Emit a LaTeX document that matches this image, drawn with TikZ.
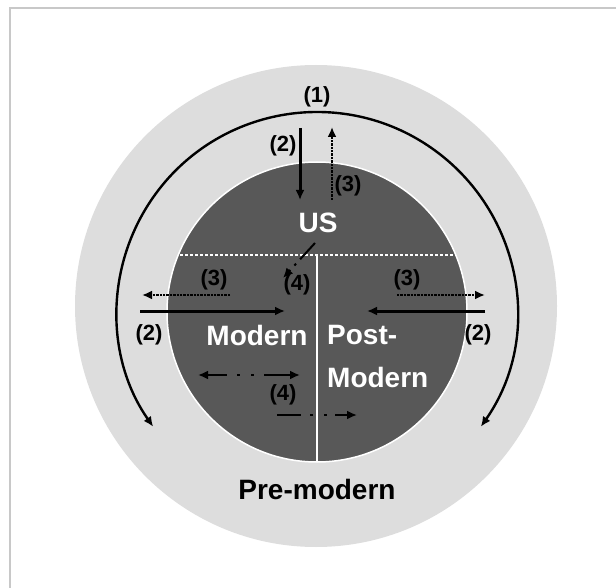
\documentclass[tikz,border=0pt]{standalone}
\usepackage{fontspec}
\setmainfont{Liberation Sans}
\usepackage{tikz}
\usetikzlibrary{
  arrows.meta}

\definecolor{ringgray}{RGB}{221,221,221}
\definecolor{coregray}{RGB}{88,88,88}
\definecolor{framegray}{RGB}{200,200,200}

\begin{document}
\begin{tikzpicture}[x=1pt,y=1pt,>={Latex[length=10pt,width=9pt]}]
\tikzset{
  lbl/.style={font=\fontsize{22}{22}\selectfont\bfseries,inner sep=0pt},
  zone/.style={font=\fontsize{28}{43}\selectfont\bfseries,inner sep=0pt},
  push/.style={line width=3pt,->},
  pull/.style={line width=2.8pt,dash pattern=on 2.4pt off 1pt,->},
  swing/.style={line width=2.4pt,dash pattern=#1}
}
\useasboundingbox (0,0) rectangle (616,-588);
\draw[framegray,line width=2pt] (10,-588) -- (10,-8) -- (616,-8);

\coordinate (core) at (317,-312);
\fill[ringgray] (316,-306) circle[radius=241];
\fill[coregray] (core) circle[radius=150];
\begin{scope}
\clip (core) circle[radius=150];
\draw[white,line width=1.8pt,dash pattern=on 3pt off 2pt] (160,-255) -- (470,-255);
\draw[white,line width=2.2pt] (317,-255) -- (317,-470);
\end{scope}
\draw[white,line width=1.5pt] (core) circle[radius=150];

% zones
\node[zone] (premodern) at (317,-489) {Pre-modern};
\node[zone,white] (us) at (318,-223) {US};
\node[zone,white] (modern) at (257,-335) {Modern};
\node[zone,white,anchor=west,align=left] (postmodern) at (327,-357) {Post-\\Modern};

% labels
\node[lbl] (one) at (317,-97) {(1)};
\node[lbl] (twotop) at (283,-146) {(2)};
\node[lbl] (threetop) at (348,-186) {(3)};
\node[lbl] (threeleft) at (214,-280) {(3)};
\node[lbl] (twoleft) at (149,-335) {(2)};
\node[lbl] (threeright) at (407,-280) {(3)};
\node[lbl] (tworight) at (478,-335) {(2)};
\node[lbl] (fourup) at (297,-285) {(4)};
\node[lbl] (fourlow) at (283,-395) {(4)};

% arrow ends
\coordinate (ta) at (300,-128); \coordinate (tb) at (300,-200);
\coordinate (tc) at (332,-200); \coordinate (td) at (332,-127);
\coordinate (la) at (230,-295); \coordinate (lb) at (142,-295);
\coordinate (lc) at (140,-311); \coordinate (ld) at (285,-311);
\coordinate (ra) at (397,-295); \coordinate (rb) at (485,-295);
\coordinate (rc) at (485,-311); \coordinate (rd) at (367,-311);
\coordinate (ua) at (315,-243); \coordinate (ub) at (283,-278);
\coordinate (ma) at (198,-375); \coordinate (mb) at (300,-375);
\coordinate (na) at (277,-415); \coordinate (nb) at (357,-415);

\draw[line width=2.4pt,<->]
  ([shift={(-35:200)}]core) arc[start angle=-35,end angle=215,radius=200];

\draw[push] (ta) -- (tb);
\draw[pull] (tc) -- (td);
\draw[pull] (la) -- (lb);
\draw[push] (lc) -- (ld);
\draw[pull] (ra) -- (rb);
\draw[push] (rc) -- (rd);
\draw[swing={on 22pt off 6pt on 2.5pt off 6pt},line width=2pt,->] (ua) -- (ub);
\draw[swing={on 20pt off 10pt on 3pt off 11pt on 3pt off 10pt on 40pt},<->] (ma) -- (mb);
\draw[swing={on 24pt off 9pt on 3pt off 11pt on 3pt off 8pt on 30pt},->] (na) -- (nb);
\end{tikzpicture}
\end{document}
